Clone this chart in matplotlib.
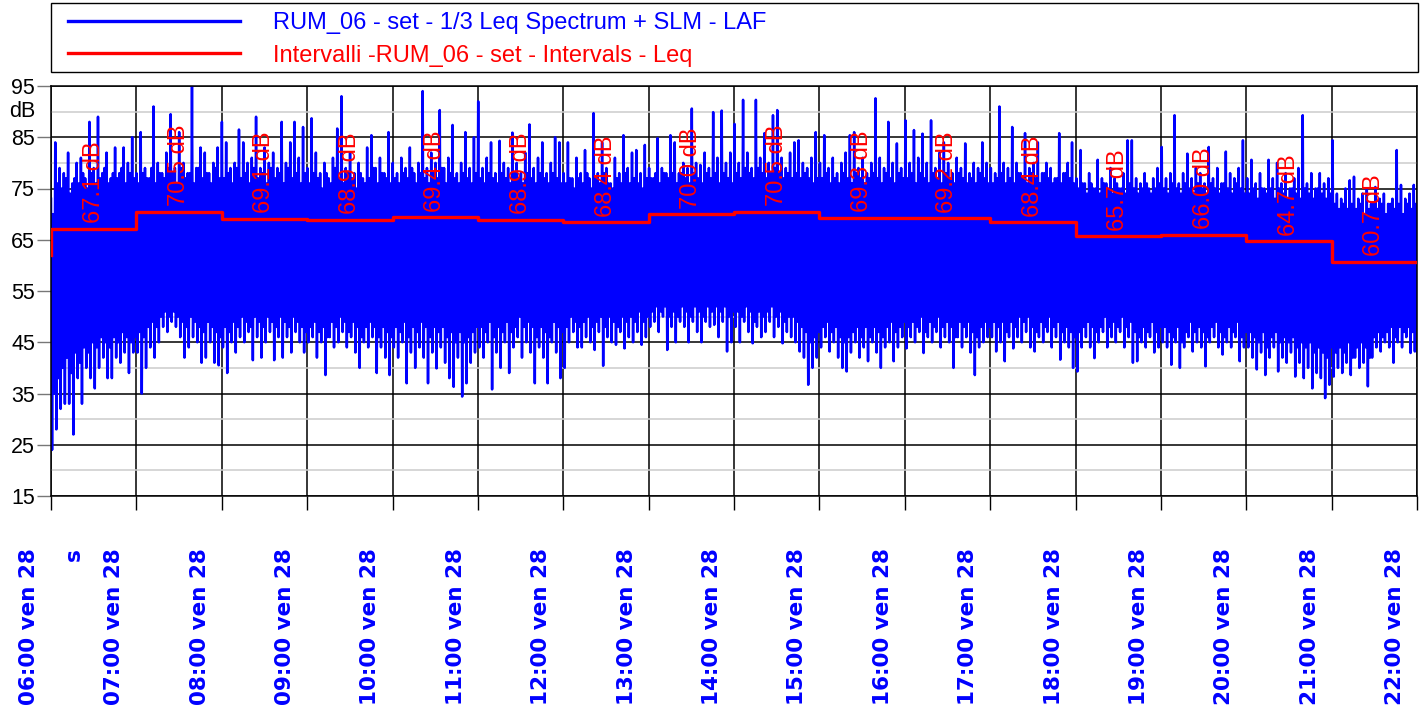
import numpy as np
import matplotlib
matplotlib.use("Agg")
import matplotlib.pyplot as plt
from matplotlib.lines import Line2D
from matplotlib.patches import Rectangle
from matplotlib.transforms import ScaledTranslation, blended_transform_factory

plt.rcParams["font.family"] = ["Liberation Sans", "DejaVu Sans"]
plt.rcParams["path.simplify"] = False   # keep every sample of the dense trace

# hourly ticks and labels
hours = list(range(6, 23))
hour_labels = ["06:00 ven 28", "07:00 ven 28", "08:00 ven 28", "09:00 ven 28",
               "10:00 ven 28", "11:00 ven 28", "12:00 ven 28", "13:00 ven 28",
               "14:00 ven 28", "15:00 ven 28", "16:00 ven 28", "17:00 ven 28",
               "18:00 ven 28", "19:00 ven 28", "20:00 ven 28", "21:00 ven 28",
               "22:00 ven 28"]

# Leq per interval (one per hour)
interval_leq = [67.1, 70.5, 69.1, 68.9, 69.4, 68.9, 68.4, 70.0,
                70.5, 69.3, 69.2, 68.4, 65.7, 66.0, 64.7, 60.7]
leq_start = 62.0

# LAF trace (80 samples per hour)
laf_06 = [73, 24, 70, 35, 84, 28, 76, 38, 79, 32, 75, 40, 78, 33, 77, 42, 82, 33, 74, 39,
          76, 27, 77, 43, 80, 38, 76, 41, 81, 33, 78, 44, 77, 40, 75, 43, 88, 38, 78, 45,
          79, 36, 76, 44, 89, 40, 77, 46, 78, 42, 79, 45, 82, 38, 76, 44, 77, 38, 78, 46,
          83, 42, 77, 45, 78, 41, 79, 47, 83, 43, 76, 46, 80, 39, 78, 45, 85, 43, 77, 46]
laf_07 = [78, 43, 76, 47, 86, 35, 78, 46, 79, 40, 77, 48, 77, 44, 79, 49, 91, 42, 76, 48,
          80, 45, 78, 50, 78, 48, 77, 51, 82, 47, 79, 50, 89.5, 49, 78, 51, 79, 48, 76, 50,
          86, 46, 79, 49, 80, 42, 77, 48, 78, 44, 78, 50, 95, 46, 76, 49, 79, 45, 79, 48,
          83, 41, 77, 47, 82, 42, 78, 49, 78, 45, 76, 48, 80, 41, 79, 47, 83, 40.5, 77, 46]
laf_08 = [88, 44, 77, 48, 84, 39, 78, 47, 79, 45, 76, 49, 80, 43, 79, 48, 86.5, 46, 77, 50,
          84, 45, 78, 49, 80, 47, 76, 48, 81, 41.5, 79, 50, 89, 46, 77, 49, 79, 42, 78, 48,
          83, 45, 76, 50, 80, 47, 79, 49, 82, 41.5, 77, 48, 79, 46, 78, 50, 88, 42, 76, 49,
          80, 46, 79, 48, 84, 43, 77, 50, 88, 47, 78, 49, 81, 45, 76, 48, 87, 43, 78, 47]
laf_09 = [79, 45, 76, 48, 88.7, 46, 78, 49, 82, 42, 77, 47, 78, 45, 75, 48, 80, 38.6, 78, 46,
          77, 46, 76, 49, 81, 44, 79, 48, 86.7, 45, 77, 50, 93, 47, 76, 49, 79, 44, 78, 47,
          82, 46, 77, 49, 78, 43, 75, 48, 80, 40, 78, 46, 77, 45, 76, 48, 83, 44, 77, 49,
          85.4, 46, 79, 48, 79, 39, 76, 46, 81, 44, 78, 48, 78, 42, 77, 47, 86, 38.6, 76, 46]
laf_10 = [80, 44, 77, 48, 78, 42, 76, 47, 81, 45, 78, 49, 79, 37, 77, 46, 83, 43, 79, 48,
          78, 40, 76, 47, 80, 44, 78, 49, 94, 42, 77, 48, 79, 37, 76, 46, 82, 43, 78, 48,
          80, 39.9, 77, 47, 90.3, 44, 79, 48, 79, 41, 76, 46, 81, 38, 78, 47, 87.4, 36.3, 77, 45,
          78, 42, 76, 47, 80, 34.4, 78, 45, 86, 37, 77, 46, 79, 41, 76, 47, 85, 43, 78, 48]
laf_11 = [92, 44, 77, 48, 79, 42, 76, 47, 81, 45, 78, 49, 84, 35.8, 77, 46, 78, 43, 76, 48,
          84.3, 40, 78, 47, 80, 45, 77, 49, 79, 39, 76, 47, 85.9, 44, 78, 48, 80, 46, 77, 50,
          78, 42, 76, 48, 82, 45, 78, 49, 87.5, 43, 77, 48, 79, 37, 76, 46, 81, 44, 78, 48,
          84, 42, 77, 47, 78, 37, 76, 46, 80, 45, 78, 49, 85, 43, 77, 48, 84, 38, 76, 47]
laf_12 = [78, 40, 76, 48, 84, 45, 77, 50, 77, 47, 75, 49, 81, 44, 77, 48, 78, 44, 76, 49,
          82.5, 46, 78, 50, 77, 45, 75, 48, 89.7, 43.5, 77, 49, 78, 47, 76, 50, 84, 40.4, 78, 48,
          79, 46, 76, 50, 76, 45, 75, 49, 81, 44.5, 77, 48, 78, 47, 76, 50, 85.4, 43.8, 78, 49,
          79, 46, 76, 50, 82, 45, 77, 49, 82.5, 47, 76, 51, 78, 44.5, 75, 49, 83.5, 46, 77, 50]
laf_13 = [79, 48, 77, 51, 77, 49, 78, 52, 84.8, 47, 76, 51, 79, 50, 78, 52, 78, 43.5, 77, 50,
          85.4, 48, 78, 51, 84, 45, 76, 50, 78, 49, 78, 52, 80, 48, 77, 51, 79, 45, 76, 50,
          90.6, 49, 78, 52, 80, 47, 77, 51, 79.6, 45, 76, 50, 82, 49, 78, 52, 79, 48, 77, 51,
          89.9, 48.4, 78, 52, 81, 46, 76, 51, 90.2, 49, 78, 52, 80, 43.2, 77, 50, 82, 45, 76, 51]
laf_14 = [87.6, 48, 78, 51, 80, 45, 77, 50, 92.3, 49, 79, 52, 82, 47, 78, 51, 79, 44.8, 77, 49,
          92.3, 48, 79, 51, 81, 46, 78, 50, 85.8, 47, 77, 51, 80, 49, 78, 52, 89.3, 46, 79, 50,
          90.3, 48, 78, 51, 81, 44.8, 77, 49, 79, 47, 78, 50, 82, 46, 77, 50, 84, 45, 78, 49,
          84.4, 43.2, 77, 48, 80, 42, 78, 47, 79, 36.7, 77, 45, 81, 40, 76, 46, 86, 42, 77, 47]
laf_15 = [80, 44, 77, 48, 85.4, 46, 78, 49, 79, 43.2, 76, 47, 81, 45, 77, 48, 78, 42, 76, 46,
          80, 40, 78, 45, 82, 39.3, 77, 46, 85.4, 43, 76, 47, 86, 45, 78, 48, 79, 42, 77, 46,
          81, 44, 76, 48, 78, 41.3, 77, 46, 80, 45, 78, 48, 92.6, 43, 77, 47, 81, 40, 76, 46,
          79, 44, 78, 48, 88, 45, 77, 49, 80, 41.3, 76, 47, 83.8, 44, 78, 48, 79, 46, 77, 49]
laf_16 = [88.3, 43.8, 77, 48, 80, 46, 78, 49, 86.4, 45, 76, 48, 81, 47, 78, 50, 85.7, 42.9, 77, 47,
          80, 46, 76, 49, 88.3, 45, 78, 48, 79, 47, 77, 50, 82, 44, 76, 48, 84, 46, 78, 49,
          80, 45, 77, 48, 78, 40, 76, 46, 81, 46, 78, 49, 79, 44, 77, 48, 83.8, 46, 76, 49,
          78, 43, 77, 47, 80, 38.6, 76, 46, 79, 44, 78, 48, 84, 45, 77, 49, 80, 46, 76, 48]
laf_17 = [79, 46, 76, 49, 78, 43.2, 77, 48, 91, 45, 78, 49, 80, 41.3, 76, 47, 79, 46, 77, 49,
          87, 43.8, 76, 48, 80, 46, 78, 50, 78, 45, 77, 49, 85.8, 47, 76, 50, 79, 44, 78, 48,
          80, 43.2, 77, 47, 84, 46, 76, 49, 78, 45, 78, 48, 80, 47, 77, 50, 79, 44, 76, 48,
          77, 46, 77, 49, 85.8, 41.6, 76, 47, 78, 45, 78, 48, 80, 44, 77, 47, 84, 40, 76, 46]
laf_18 = [77, 39.3, 75, 47, 82.5, 44, 76, 48, 76, 46, 74, 49, 78, 44, 76, 48, 75, 41.9, 75, 47,
          80.6, 45, 74, 48, 77, 47, 76, 50, 76, 44, 75, 48, 79, 46, 74, 49, 77, 45, 76, 48,
          75, 47, 75, 50, 78, 44, 74, 48, 84.4, 46, 76, 49, 84.4, 41, 75, 47, 77, 41.3, 74, 46,
          76, 45, 75, 48, 78, 44, 76, 47, 75, 46, 74, 49, 77, 43, 75, 47, 79, 44, 76, 48]
laf_19 = [83.1, 45, 75, 48, 77, 44, 74, 47, 78, 40.6, 76, 46, 89.3, 45, 75, 48, 76, 40, 74, 45,
          78, 44, 76, 47, 81.8, 46, 75, 49, 77, 43.2, 74, 47, 79, 45, 76, 48, 78, 44, 75, 47,
          76, 40.3, 74, 46, 83.1, 45, 76, 48, 77, 46, 75, 49, 79, 44, 74, 47, 76, 42.6, 76, 46,
          82.2, 45, 75, 48, 78, 44, 74, 47, 77, 46, 76, 49, 79, 41.3, 75, 46, 84.4, 44, 74, 47]
laf_20 = [77, 44, 74, 47, 80.6, 42, 75, 46, 76, 39.7, 73, 45, 78, 43, 75, 47, 75, 38.6, 74, 44,
          80.6, 42, 75, 46, 77, 44, 73, 47, 80, 39.3, 75, 45, 76, 42, 74, 46, 78, 41, 73, 45,
          75, 43, 75, 46, 77, 38.3, 74, 44, 79, 41, 73, 45, 89.3, 38, 75, 44, 76, 40, 74, 45,
          78, 36, 73, 43, 75, 39, 75, 44, 78, 38, 74, 43, 76, 34.1, 73, 42, 77, 36.7, 74, 44]
laf_21 = [84.4, 38.3, 72, 43, 74, 40, 71, 44, 73, 39, 72, 43, 75, 41, 71, 45, 76.6, 38.6, 72, 42,
          77.3, 42, 71, 44, 73, 40, 72, 45, 74, 41, 70, 44, 75, 36.4, 71, 42, 72, 42, 72, 46,
          75.3, 44, 71, 47, 73, 43.2, 72, 46, 74, 45, 70, 47, 72, 44, 72, 48, 73, 41, 71, 46,
          82.5, 45, 72, 48, 75.7, 44, 70, 47, 73, 46, 72, 48, 74, 42.9, 71, 47, 75.7, 43.2, 72, 48]

laf = (laf_06 + laf_07 + laf_08 + laf_09 + laf_10 + laf_11 + laf_12 + laf_13 +
       laf_14 + laf_15 + laf_16 + laf_17 + laf_18 + laf_19 + laf_20 + laf_21)
t = np.linspace(6, 22, len(laf))

W, H = 1423, 713
fig = plt.figure(figsize=(W / 100, H / 100), dpi=100)
ax = fig.add_axes([51 / W, 1 - 496 / H, 1366 / W, 410 / H])

ax.plot(t, laf, color="#0000ff", lw=1.8, zorder=2)
ax.step([6] + hours, [leq_start] + interval_leq + [interval_leq[-1]],
        where="post", color="#ff0000", lw=2.4, zorder=3)

for h, v in zip(hours[:-1], interval_leq):
    ax.annotate(f"{v:.1f} dB", (h + 0.5, v), xytext=(0, 4), textcoords="offset points",
                rotation=90, ha="center", va="bottom", color="#ff0000", fontsize=17, zorder=4)

ax.set_xlim(6, 22)
ax.set_ylim(15, 95)
ax.set_yticks(range(15, 96, 10))
ax.set_yticks(range(20, 91, 10), minor=True)
ax.set_axisbelow(True)
ax.grid(which="major", color="black", lw=1.1)
ax.grid(which="minor", axis="y", color="#cccccc", lw=1.1)

ax.set_xticks(hours)
ax.set_xticklabels([])
ax.tick_params(axis="x", length=10, width=1, color="black")
ax.tick_params(axis="y", which="major", length=10, width=1, color="#777777", pad=1.5, labelsize=15.5)
ax.tick_params(axis="y", which="minor", length=0)

# time labels sit a little to the left of their tick
below = blended_transform_factory(ax.transData, ax.transAxes)
shift = ScaledTranslation(-0.22, 0, fig.dpi_scale_trans)
for h, lab in zip(hours, hour_labels):
    ax.text(h, -0.1268, lab, transform=below + shift, rotation=90, ha="center", va="top",
            color="#0000ff", fontfamily="DejaVu Sans", fontweight="bold", fontsize=15.5)

for s in ax.spines.values():
    s.set_color("black")
    s.set_linewidth(1.1)

ax.text(-0.0117, 90, "dB", transform=blended_transform_factory(ax.transAxes, ax.transData),
        ha="right", va="center", fontsize=15.5)
ax.text(6.27, -0.1268, "s", transform=below, rotation=90, ha="center", va="top",
        color="#0000ff", fontfamily="DejaVu Sans", fontweight="bold", fontsize=15.5)

# legend entries without frame, box drawn separately
handles = [Line2D([], [], color="#0000ff", lw=2.4), Line2D([], [], color="#ff0000", lw=2.4)]
fig.legend(handles,
           ["RUM_06 - set - 1/3 Leq Spectrum + SLM - LAF",
            "Intervalli -RUM_06 - set - Intervals - Leq"],
           loc="upper left", bbox_to_anchor=(68 / W, 1 - 12 / H), borderaxespad=0,
           borderpad=0, fontsize=17, handlelength=7.3, handletextpad=1.4,
           labelspacing=0.45, frameon=False, labelcolor="linecolor")
fig.add_artist(Rectangle((51 / W, 1 - 72 / H), 1367 / W, 69 / H, transform=fig.transFigure,
                         fill=False, edgecolor="black", lw=1.0))

fig.savefig("out.png", dpi=100)
plt.close()
